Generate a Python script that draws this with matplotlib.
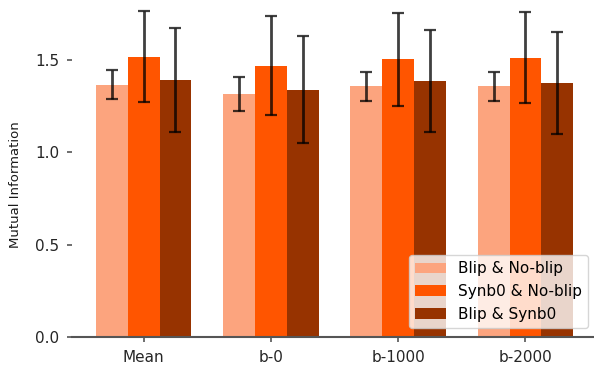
import matplotlib
matplotlib.use("Agg")
import matplotlib.pyplot as plt
import numpy as np

categories = ["Mean", "b-0", "b-1000", "b-2000"]
series_names = ["Blip & No-blip", "Synb0 & No-blip", "Blip & Synb0"]
blip_noblip = [1.367, 1.316, 1.358, 1.358]
blip_noblip_err = [0.077, 0.090, 0.078, 0.078]
synb0_noblip = [1.518, 1.470, 1.504, 1.513]
synb0_noblip_err = [0.246, 0.270, 0.252, 0.248]
blip_synb0 = [1.392, 1.340, 1.387, 1.377]
blip_synb0_err = [0.280, 0.290, 0.277, 0.277]
colors = ["#FCA47E", "#FF5500", "#973300"]

values = [blip_noblip, synb0_noblip, blip_synb0]
errors = [blip_noblip_err, synb0_noblip_err, blip_synb0_err]

fig = plt.figure(figsize=(5.94, 3.68), dpi=100)
left_px, right_px, bottom_px, top_px = 72, 597, 337, -5
ax = fig.add_axes([left_px/594, (368-bottom_px)/368, (right_px-left_px)/594, (bottom_px-top_px)/368])

x = np.arange(len(categories))
w = 0.25
for i, (v, e, c, n) in enumerate(zip(values, errors, colors, series_names)):
    ax.bar(x + (i - 1) * w, v, w, color=c, label=n,
           yerr=e, capsize=4, error_kw=dict(ecolor="#000000", elinewidth=2, capthick=1.6, alpha=0.75))

ax.set_xlim(-0.5625, 3.5625)
ax.set_ylim(0, 1.852)
ax.set_xticks(x)
ax.set_xticklabels(categories, fontsize=11)
ax.set_yticks([0.0, 0.5, 1.0, 1.5])
ax.set_yticklabels(["0.0", "0.5", "1.0", "1.5"], fontsize=11)
ax.tick_params(axis="both", colors="#555555", labelcolor="#262626", length=3.5, width=1.2, pad=5.5)
ax.set_ylabel("Mutual Information", fontsize=9.5, color="#1a1a1a")
ax.yaxis.set_label_coords(-0.095, (bottom_px-185)/(bottom_px-top_px))
for s in ["top", "right", "left"]:
    ax.spines[s].set_visible(False)
ax.spines["bottom"].set_color("#555555")
ax.spines["bottom"].set_linewidth(1.5)

leg = ax.legend(loc="lower right", fontsize=11, framealpha=0.8,
                bbox_to_anchor=((596-left_px)/(right_px-left_px), 0.005))
fig.savefig("out.png", dpi=100)
